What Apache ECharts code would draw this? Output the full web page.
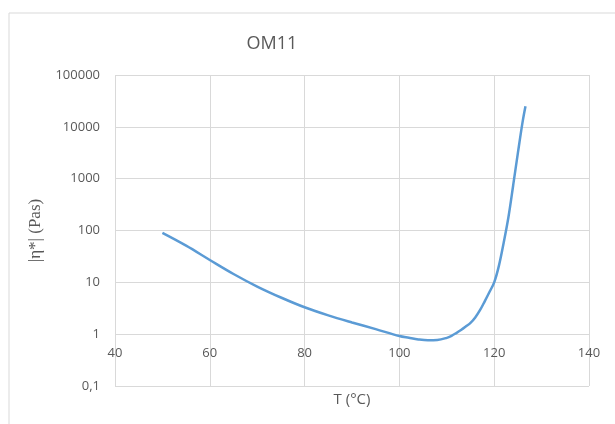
<!DOCTYPE html>
<html>
<head>
<meta charset="utf-8">
<script src="https://cdn.jsdelivr.net/npm/echarts@6/dist/echarts.min.js"></script>
<style>
html,body{margin:0;padding:0;background:#fff;}
#chart{width:615px;height:424px;}
</style>
</head>
<body>
<div id="chart"></div>
<script>
var titleText = 'OM11';
var xName = 'T (°C)';
var yName = '|η*| (Pas)';
var temperatures = [50,55,60,65,70,75,80,85,90,95,100,102,104,106,108,110,111,112,113,114,115,116,117,118,119,120,121,122,123,124,125,126,126.6];
var viscosity = [90,51,27,14.5,8.3,5.1,3.3,2.3,1.68,1.25,0.92,0.85,0.79,0.76,0.77,0.85,0.93,1.05,1.2,1.4,1.65,2.1,2.9,4.3,6.5,10,21,58,180,740,3150,12600,25000];
var xTicks = [40,60,80,100,120,140];
var yTicks = [0.1,1,10,100,1000,10000,100000];
var yTickLabels = ['0,1','1','10','100','1000','10000','100000'];

var points = temperatures.map(function(t,i){return [t, viscosity[i]];});
var chart = echarts.init(document.getElementById('chart'));
var labelColor = '#595959';
var gridColor = '#d9d9d9';
chart.setOption({
  animation:false,
  backgroundColor:'#ffffff',
  title:{text:titleText,left:267,top:30,textAlign:'center',
    textStyle:{fontFamily:'Open Sans',fontSize:18,fontWeight:'normal',color:labelColor}},
  graphic:[
    {type:'polyline',shape:{points:[[9,424],[9,13],[615,13]]},style:{stroke:gridColor,lineWidth:1,fill:null},silent:true}
  ],
  grid:{left:115,top:75,width:474,height:311,containLabel:false},
  xAxis:{
    type:'value',min:xTicks[0],max:xTicks[xTicks.length-1],interval:20,
    offset:-52,
    axisLine:{show:false},axisTick:{show:false},
    axisLabel:{margin:13,color:labelColor,fontFamily:'Open Sans',fontSize:13},
    splitLine:{show:true,lineStyle:{color:gridColor,width:1}},
    name:xName,nameLocation:'middle',nameGap:58,
    nameTextStyle:{color:labelColor,fontFamily:'Open Sans',fontSize:15}
  },
  yAxis:{
    type:'log',logBase:10,min:yTicks[0],max:yTicks[yTicks.length-1],
    axisLine:{show:false},axisTick:{show:false},
    axisLabel:{margin:15,color:labelColor,fontFamily:'Open Sans',fontSize:13,
      formatter:function(v){
        for(var i=0;i<yTicks.length;i++){ if(Math.abs(v-yTicks[i])<yTicks[i]*1e-6) return yTickLabels[i]; }
        return String(v);
      }},
    splitLine:{show:true,lineStyle:{color:gridColor,width:1}},
    name:yName,nameLocation:'middle',nameGap:56,
    nameTextStyle:{color:labelColor,fontFamily:'Liberation Serif',fontSize:17}
  },
  series:[{
    type:'line',data:points,smooth:0.35,showSymbol:false,symbol:'none',
    lineStyle:{color:'#5b9bd5',width:2.5}
  }]
});
</script>
</body>
</html>
